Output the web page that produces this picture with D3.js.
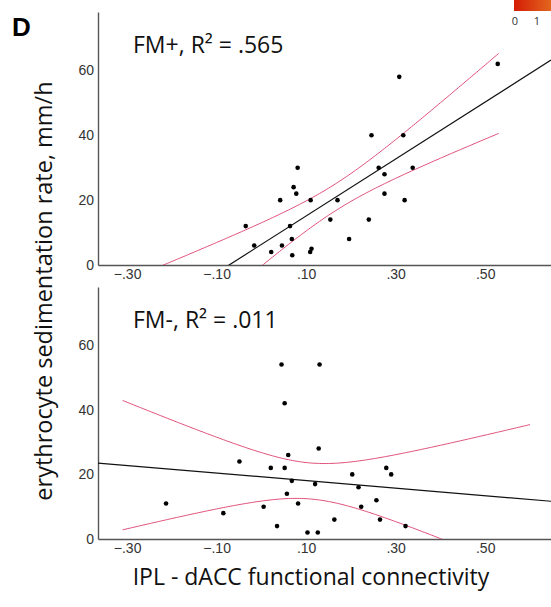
<!DOCTYPE html>
<html>
<head>
<meta charset="utf-8">
<script src="https://cdn.jsdelivr.net/npm/d3@7"></script>
<style>
  body { margin: 0; background: #fff; }
  svg { display: block; font-family: 'Open Sans', sans-serif; }
  .axis path { stroke: #555; stroke-width: 1.4; }
  .axis text { fill: #333; font-size: 14px; }
</style>
</head>
<body>
<svg id="chart" width="551" height="607"></svg>
<script>
// FM+ group: functional connectivity vs ESR
const fmPlusX = [0.528, 0.308, 0.246, 0.317, 0.081, 0.262, 0.338, 0.275, 0.072, 0.078,
  0.275, 0.042, 0.110, 0.170, 0.320, -0.035, 0.064, 0.154, 0.240, 0.196,
  -0.016, 0.046, 0.068, 0.022, 0.109, 0.112, 0.069];
const fmPlusY = [62, 58, 40, 40, 30, 30, 30, 28, 24, 22,
  22, 20, 20, 20, 20, 12, 12, 14, 14, 8,
  6, 6, 8, 4, 4, 5, 3];

// FM- group
const fmMinusX = [0.045, 0.130, 0.052, 0.128, 0.060, -0.049, 0.021, 0.052, 0.279, 0.203,
  0.290, 0.068, 0.120, 0.217, 0.057, 0.257, -0.213, 0.082, 0.005, 0.223,
  -0.085, 0.163, 0.265, 0.035, 0.322, 0.103, 0.126];
const fmMinusY = [54, 54, 42, 28, 26, 24, 22, 22, 22, 20,
  20, 18, 17, 16, 14, 12, 11, 11, 10, 10,
  8, 6, 6, 4, 4, 2, 2];

const xTicks = [-0.30, -0.10, 0.10, 0.30, 0.50];
const yTicks = [0, 20, 40, 60];
const labels = ['FM+, R\u00b2 = .565', 'FM-, R\u00b2 = .011'];
const ciRanges = [[-0.30, 0.53], [-0.31, 0.60]];
const T_CRIT = 2.06; // t(.975, df = 25)

const svg = d3.select('#chart');

const x = d3.scaleLinear().domain([-0.365, 0.647]).range([98, 551]);

const panels = [
  { xs: fmPlusX, ys: fmPlusY, top: 12, bottom: 265, label: labels[0], ci: ciRanges[0] },
  { xs: fmMinusX, ys: fmMinusY, top: 287, bottom: 539, label: labels[1], ci: ciRanges[1] }
];

const fmtX = d => d3.format('.2f')(d).replace('0.', '.');

// Ordinary least squares with 95% CI of the mean.
const fit = (xs, ys) => {
  const n = xs.length;
  const mx = d3.mean(xs);
  const my = d3.mean(ys);
  const sxx = d3.sum(xs, v => (v - mx) ** 2);
  const sxy = d3.sum(xs, (v, i) => (v - mx) * (ys[i] - my));
  const b = sxy / sxx;
  const a = my - b * mx;
  const sse = d3.sum(xs, (v, i) => (ys[i] - a - b * v) ** 2);
  const s = Math.sqrt(sse / (n - 2));
  return {
    predict: v => a + b * v,
    half: v => T_CRIT * s * Math.sqrt(1 / n + (v - mx) ** 2 / sxx)
  };
};

panels.forEach((p, i) => {
  const y = d3.scaleLinear().domain([0, 78]).range([p.bottom, p.top]);
  const g = svg.append('g');

  const clipId = `clip${i}`;
  svg.append('clipPath').attr('id', clipId)
    .append('rect')
      .attr('x', x.range()[0])
      .attr('y', p.top)
      .attr('width', x.range()[1] - x.range()[0])
      .attr('height', p.bottom - p.top);

  g.append('g')
    .attr('class', 'axis')
    .attr('transform', `translate(${x.range()[0]},0)`)
    .call(d3.axisLeft(y).tickValues(yTicks).tickSize(0).tickPadding(4));

  g.append('g')
    .attr('class', 'axis')
    .attr('transform', `translate(0,${p.bottom})`)
    .call(d3.axisBottom(x).tickValues(xTicks).tickFormat(fmtX).tickSize(0).tickPadding(4));

  const model = fit(p.xs, p.ys);
  const plot = g.append('g').attr('clip-path', `url(#${clipId})`);

  const line = d3.line().x(d => x(d[0])).y(d => y(d[1]));
  const grid = d3.range(p.ci[0], p.ci[1] + 1e-9, 0.005);

  [1, -1].forEach(sign => {
    plot.append('path')
      .attr('d', line(grid.map(v => [v, model.predict(v) + sign * model.half(v)])))
      .attr('fill', 'none')
      .attr('stroke', '#e0507a')
      .attr('stroke-width', 1);
  });

  plot.append('path')
    .attr('d', line(x.domain().map(v => [v, model.predict(v)])))
    .attr('fill', 'none')
    .attr('stroke', '#111')
    .attr('stroke-width', 1.2);

  plot.selectAll('circle')
    .data(p.xs.map((v, k) => [v, p.ys[k]]))
    .enter()
      .append('circle')
      .attr('cx', d => x(d[0]))
      .attr('cy', d => y(d[1]))
      .attr('r', 2.3)
      .attr('fill', '#000');

  g.append('text')
    .attr('x', 133)
    .attr('y', p.top + 41)
    .attr('font-size', 23)
    .attr('fill', '#111')
    .text(p.label);
});

// Panel letter
svg.append('text')
  .attr('x', 12)
  .attr('y', 36)
  .attr('font-family', 'Liberation Sans, Arial, sans-serif')
  .attr('font-weight', 'bold')
  .attr('font-size', 26)
  .text('D');

// Axis titles
svg.append('text')
  .attr('transform', 'translate(52,291) rotate(-90)')
  .attr('text-anchor', 'middle')
  .attr('font-size', 23.5)
  .attr('fill', '#111')
  .text('erythrocyte sedimentation rate, mm/h');

svg.append('text')
  .attr('x', 311)
  .attr('y', 585)
  .attr('text-anchor', 'middle')
  .attr('font-size', 23)
  .attr('fill', '#111')
  .text('IPL - dACC functional connectivity');

// Colour bar fragment
const grad = svg.append('defs').append('linearGradient').attr('id', 'cbar');
grad.append('stop').attr('offset', '0%').attr('stop-color', '#d41c06');
grad.append('stop').attr('offset', '100%').attr('stop-color', '#e2661e');
svg.append('rect')
  .attr('x', 514).attr('y', 0).attr('width', 37).attr('height', 11)
  .attr('fill', 'url(#cbar)');
svg.selectAll('.cbar-label')
  .data(['0', '1'])
  .enter()
    .append('text')
    .attr('class', 'cbar-label')
    .attr('x', (d, k) => 515 + k * 22)
    .attr('y', 25)
    .attr('text-anchor', 'middle')
    .attr('font-size', 11)
    .attr('fill', '#333')
    .text(d => d);
</script>
</body>
</html>
